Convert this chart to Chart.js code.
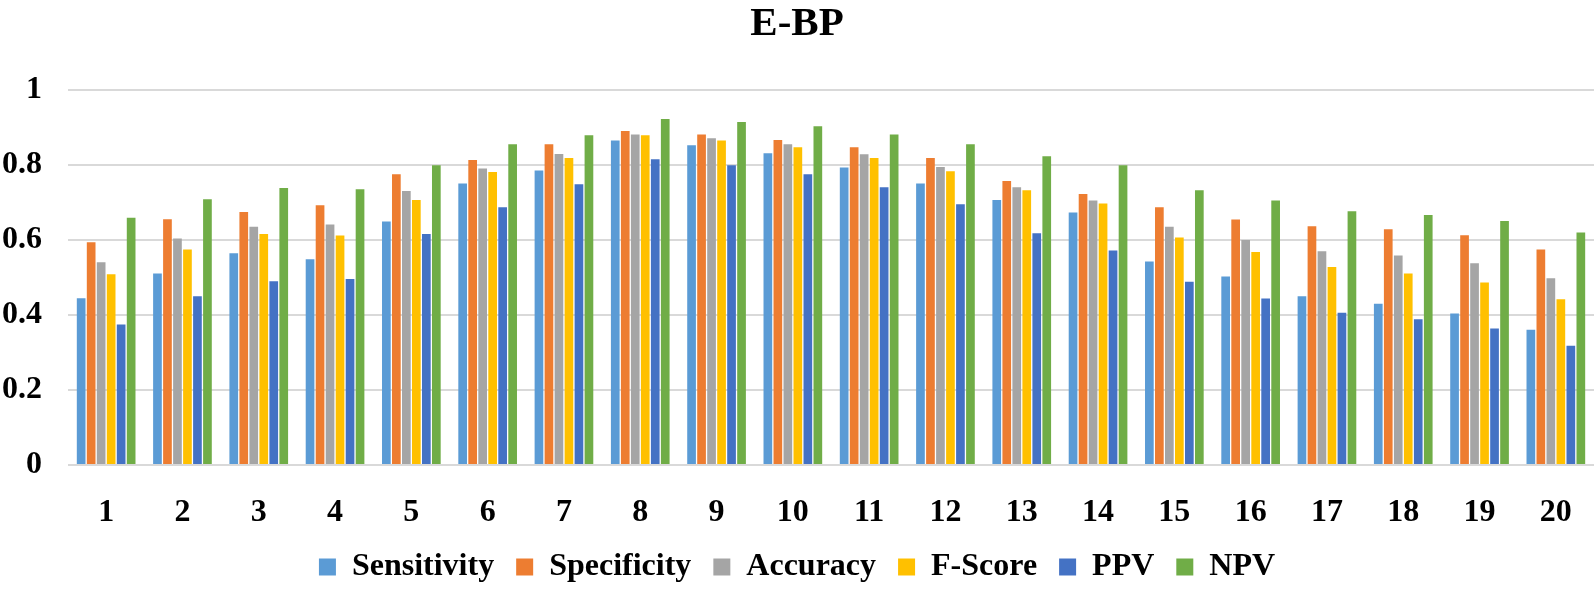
<!DOCTYPE html>
<html>
<head>
<meta charset="utf-8">
<script src="https://cdn.jsdelivr.net/npm/chart.js@4/dist/chart.umd.min.js"></script>
<style>
  html, body { margin: 0; padding: 0; background: #fff; }
  #wrap { width: 1594px; height: 593px; position: relative; }
</style>
</head>
<body>
<div id="wrap"><canvas id="c"></canvas></div>
<script>
const categories = ['1','2','3','4','5','6','7','8','9','10','11','12','13','14','15','16','17','18','19','20'];
const sensitivity = [0.445,0.511,0.565,0.549,0.650,0.751,0.786,0.866,0.853,0.832,0.794,0.751,0.707,0.674,0.543,0.503,0.450,0.430,0.404,0.361];
const specificity = [0.594,0.656,0.675,0.693,0.776,0.814,0.856,0.891,0.882,0.867,0.848,0.819,0.758,0.723,0.688,0.655,0.637,0.629,0.613,0.575];
const accuracy    = [0.541,0.604,0.636,0.642,0.731,0.791,0.830,0.882,0.872,0.856,0.829,0.795,0.741,0.706,0.636,0.600,0.570,0.559,0.538,0.498];
const fScore      = [0.509,0.575,0.616,0.612,0.707,0.782,0.819,0.880,0.866,0.848,0.819,0.784,0.733,0.698,0.607,0.568,0.528,0.511,0.487,0.442];
const ppv         = [0.375,0.450,0.490,0.496,0.616,0.688,0.749,0.816,0.800,0.776,0.741,0.696,0.618,0.572,0.489,0.444,0.406,0.389,0.364,0.318];
const npv         = [0.660,0.709,0.739,0.736,0.800,0.856,0.880,0.923,0.915,0.904,0.882,0.856,0.824,0.800,0.733,0.706,0.677,0.667,0.651,0.620];
const yTicks = [0, 0.2, 0.4, 0.6, 0.8, 1];

const FONT = "'Liberation Serif', 'Times New Roman', serif";
const mk = (label, data, color) => ({
  label, data, backgroundColor: color, borderWidth: 0,
  categoryPercentage: 0.786, barPercentage: 0.87
});

new Chart(document.getElementById('c'), {
  type: 'bar',
  data: {
    labels: categories,
    datasets: [
      mk('Sensitivity', sensitivity, '#5B9BD5'),
      mk('Specificity', specificity, '#ED7D31'),
      mk('Accuracy', accuracy, '#A5A5A5'),
      mk('F-Score', fScore, '#FFC000'),
      mk('PPV', ppv, '#4472C4'),
      mk('NPV', npv, '#70AD47')
    ]
  },
  options: {
    responsive: true,
    maintainAspectRatio: false,
    animation: false,
    layout: { padding: { left: 0, right: 0, top: 0, bottom: 0 } },
    plugins: {
      title: {
        display: true, text: 'E-BP', color: '#000',
        font: { family: FONT, size: 41, weight: 'bold', lineHeight: 1.2 },
        padding: { top: 0, bottom: 41 }
      },
      legend: {
        position: 'bottom',
        labels: {
          color: '#000',
          font: { family: FONT, size: 32, weight: 'bold' },
          boxWidth: 17, boxHeight: 17, padding: 22
        }
      },
      tooltip: { enabled: false }
    },
    scales: {
      x: {
        grid: { display: false },
        border: { display: false },
        ticks: { color: '#000', font: { family: FONT, size: 32, weight: 'bold' }, padding: 21, maxRotation: 0 },
        afterFit: (s) => { s.height = 64; }
      },
      y: {
        min: 0, max: 1,
        afterBuildTicks: (s) => { s.ticks = yTicks.map(v => ({ value: v })); },
        grid: { color: '#D9D9D9', lineWidth: 2, drawTicks: false },
        border: { display: false },
        ticks: {
          color: '#000', font: { family: FONT, size: 32, weight: 'bold' }, padding: 26,
          callback: (v) => String(v)
        },
        afterFit: (s) => { s.width = 68; }
      }
    }
  }
});
</script>
</body>
</html>
